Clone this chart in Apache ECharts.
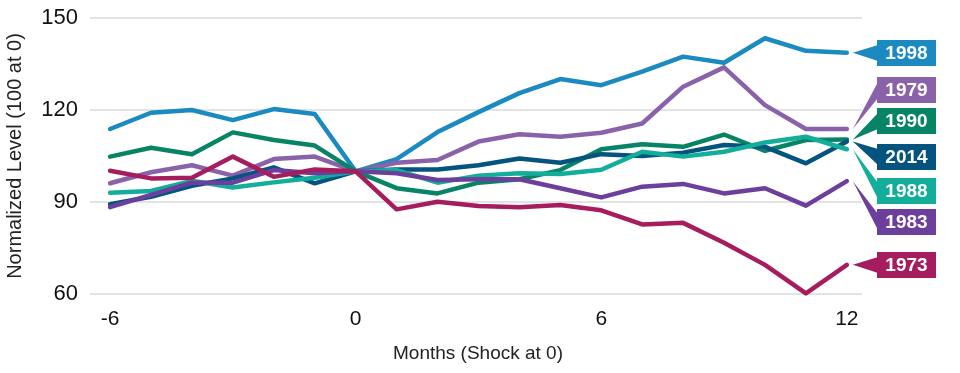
<!DOCTYPE html>
<html>
<head>
<meta charset="utf-8">
<script src="https://cdn.jsdelivr.net/npm/echarts@6/dist/echarts.min.js"></script>
<style>
html,body{margin:0;padding:0;background:#fff;}
#chart{width:960px;height:373px;}
</style>
</head>
<body>
<div id="chart"></div>
<script>
// Months relative to shock
const months = [-6,-5,-4,-3,-2,-1,0,1,2,3,4,5,6,7,8,9,10,11,12];
const xTicks = [-6, 0, 6, 12];
const seriesNames = ['1998','1979','1990','2014','1988','1983','1973'];
const s1998 = [113.8,119.1,120.0,116.7,120.3,118.7,100,104.0,112.8,119.3,125.5,130.1,128.1,132.5,137.4,135.4,143.4,139.3,138.7];
const s1979 = [96.1,99.7,102.0,98.6,104.0,104.8,100,102.8,103.7,109.7,112.1,111.3,112.6,115.6,127.6,133.9,121.6,113.8,113.8];
const s1990 = [104.8,107.7,105.6,112.7,110.2,108.4,100,94.5,92.8,96.3,97.4,100.4,107.2,108.8,108.0,112.0,106.7,110.2,110.4];
const s2014 = [89.3,91.7,95.3,97.7,101.3,96.1,100,100.6,100.6,102.0,104.2,102.8,105.6,105.0,106.1,108.6,108.0,102.6,109.7];
const s1988 = [93.0,93.6,96.9,94.7,96.4,97.9,100,100.4,96.3,98.6,99.4,99.1,100.5,106.4,104.8,106.4,109.4,111.3,107.2];
const s1983 = [88.3,92.3,96.3,96.3,100.4,99.4,100,99.4,97.2,97.4,97.4,94.5,91.5,95.0,95.9,92.8,94.5,88.8,96.8];
const s1973 = [100.2,97.7,97.9,104.8,98.2,100.6,100,87.6,90.1,88.7,88.3,89.0,87.3,82.7,83.2,76.7,69.5,60.2,69.5];
const seriesData = [s1998,s1979,s1990,s2014,s1988,s1983,s1973];
const colors = ['#1a8ac0','#8a62aa','#078466','#05547f','#12ae9a','#6b3f9b','#a51d5e'];
// label box vertical centers (layout)
const boxY = [53, 90, 121, 157, 191, 222, 265];

const chart = echarts.init(document.getElementById('chart'));
const FONT = '"Liberation Sans", Arial, Helvetica, sans-serif';

chart.setOption({
  animation: false,
  grid: {left: 90, right: 98, top: 18, bottom: 79, outerBoundsMode: 'none', containLabel: false},
  xAxis: {
    type: 'value', min: -6.49, max: 12.37,
    axisLine: {show: false}, axisTick: {show: false}, splitLine: {show: false},
    axisLabel: {customValues: xTicks, color: '#111', fontSize: 21, fontFamily: FONT, margin: 15},
    name: 'Months (Shock at 0)', nameLocation: 'middle', nameGap: 50,
    nameTextStyle: {color: '#222', fontSize: 19, fontFamily: FONT, padding: [0, 0, 0, 4]}
  },
  yAxis: {
    type: 'value', min: 60, max: 150, interval: 30,
    axisLine: {show: false}, axisTick: {show: false},
    splitLine: {lineStyle: {color: '#dadada', width: 1.5}},
    axisLabel: {color: '#111', fontSize: 22, fontFamily: FONT, margin: 12},
    name: 'Normalized Level (100 at 0)', nameLocation: 'middle', nameGap: 65,
    nameTextStyle: {color: '#222', fontSize: 20, fontFamily: FONT}
  },
  series: seriesNames.map((n, i) => ({
    name: n, type: 'line', symbol: 'none',
    data: months.map((m, j) => [m, seriesData[i][j]]),
    lineStyle: {color: colors[i], width: 4.5, cap: 'round', join: 'round'},
    itemStyle: {color: colors[i]},
    z: 2 + i
  }))
});

const graphics = [];
const bx = 877, bw = 59, bh = 26;
seriesNames.forEach((n, i) => {
  const last = seriesData[i][seriesData[i].length - 1];
  const p = chart.convertToPixel({gridIndex: 0}, [months[months.length - 1], last]);
  const ax = p[0] + 6, ay = p[1];
  const cy = boxY[i];
  graphics.push({
    type: 'polygon',
    shape: {points: [[ax, ay], [bx + 1, cy - 8], [bx + 1, cy + 8]]},
    style: {fill: colors[i]}, z: 20
  });
  graphics.push({
    type: 'rect',
    shape: {x: bx, y: cy - bh / 2, width: bw, height: bh},
    style: {fill: colors[i]}, z: 21
  });
  graphics.push({
    type: 'text',
    x: bx + bw / 2, y: cy + 1,
    style: {text: n, fill: '#fff', font: 'bold 19px ' + FONT, align: 'center', verticalAlign: 'middle'},
    z: 22
  });
});
chart.setOption({graphic: graphics});
</script>
</body>
</html>
